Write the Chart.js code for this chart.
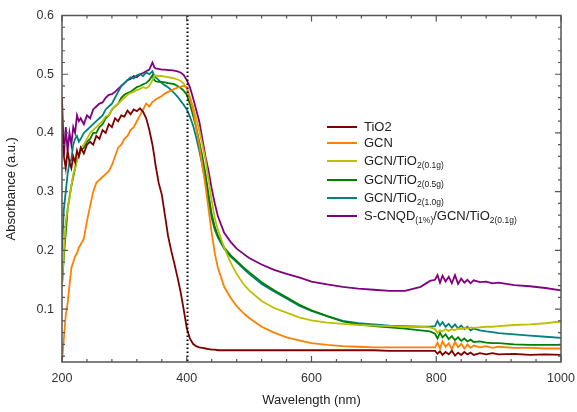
<!DOCTYPE html>
<html>
<head>
<meta charset="utf-8">
<script src="https://cdn.jsdelivr.net/npm/chart.js@4.4.1/dist/chart.umd.min.js"></script>
<style>
  html, body { margin: 0; padding: 0; background: #fff; }
  #wrap { width: 577px; height: 412px; }
</style>
</head>
<body>
<div id="wrap"><canvas id="absChart" width="577" height="412"></canvas></div>
<script>
// wavelength grid (nm) shared by all spectra
const wavelength = [200,203,206,209,212,215,218,221,224,227,230,235,240,245,250,255,260,265,270,275,280,285,290,295,300,305,310,315,320,325,330,335,340,345,348,350,355,360,365,370,375,380,385,390,395,400,405,410,415,420,425,430,435,440,445,450,460,470,480,490,500,520,540,560,580,600,625,650,675,700,725,750,775,790,798,802,806,810,815,820,825,830,835,840,845,850,855,860,870,880,890,900,925,950,975,1000];

const tio2 = [0.46,0.36,0.34,0.37,0.35,0.34,0.36,0.35,0.37,0.36,0.375,0.365,0.38,0.385,0.38,0.395,0.39,0.405,0.40,0.415,0.41,0.425,0.42,0.43,0.428,0.438,0.432,0.44,0.437,0.442,0.436,0.425,0.405,0.38,0.36,0.345,0.315,0.295,0.26,0.225,0.20,0.178,0.155,0.13,0.10,0.068,0.05,0.041,0.037,0.035,0.034,0.033,0.032,0.031,0.031,0.030,0.030,0.030,0.030,0.030,0.030,0.030,0.030,0.030,0.030,0.030,0.030,0.030,0.030,0.030,0.029,0.029,0.029,0.029,0.029,0.024,0.028,0.022,0.027,0.023,0.029,0.021,0.026,0.022,0.027,0.023,0.026,0.022,0.025,0.023,0.025,0.023,0.024,0.022,0.023,0.022];

const gcn = [0.01,0.05,0.09,0.11,0.14,0.17,0.18,0.19,0.195,0.205,0.21,0.22,0.25,0.275,0.30,0.315,0.32,0.325,0.33,0.335,0.345,0.36,0.375,0.38,0.39,0.395,0.405,0.41,0.42,0.43,0.44,0.45,0.445,0.453,0.455,0.457,0.46,0.463,0.467,0.47,0.472,0.475,0.477,0.479,0.48,0.478,0.46,0.44,0.41,0.38,0.345,0.31,0.27,0.23,0.195,0.17,0.138,0.12,0.105,0.094,0.085,0.07,0.06,0.052,0.047,0.042,0.039,0.037,0.036,0.035,0.035,0.035,0.035,0.035,0.035,0.043,0.033,0.045,0.036,0.042,0.032,0.044,0.035,0.041,0.033,0.040,0.034,0.038,0.035,0.037,0.034,0.036,0.034,0.034,0.033,0.033];

const gcnTio2_01 = [0.14,0.20,0.25,0.27,0.29,0.31,0.33,0.34,0.355,0.36,0.375,0.38,0.39,0.40,0.405,0.41,0.415,0.42,0.428,0.43,0.44,0.445,0.45,0.455,0.46,0.465,0.468,0.47,0.473,0.475,0.478,0.476,0.48,0.49,0.497,0.498,0.497,0.497,0.496,0.495,0.494,0.493,0.491,0.489,0.484,0.476,0.46,0.445,0.425,0.405,0.38,0.355,0.32,0.285,0.255,0.235,0.205,0.18,0.16,0.144,0.132,0.114,0.102,0.094,0.086,0.081,0.077,0.075,0.073,0.072,0.071,0.070,0.070,0.069,0.066,0.060,0.064,0.062,0.066,0.063,0.066,0.064,0.067,0.066,0.068,0.067,0.069,0.068,0.069,0.070,0.070,0.071,0.073,0.074,0.076,0.079];

const gcnTio2_05 = [0.14,0.19,0.23,0.27,0.29,0.31,0.325,0.34,0.355,0.36,0.37,0.375,0.385,0.39,0.40,0.40,0.41,0.415,0.425,0.43,0.44,0.445,0.45,0.46,0.465,0.468,0.47,0.474,0.478,0.48,0.483,0.485,0.49,0.498,0.49,0.488,0.487,0.487,0.486,0.485,0.484,0.483,0.48,0.477,0.472,0.465,0.45,0.43,0.41,0.385,0.36,0.33,0.295,0.262,0.24,0.225,0.205,0.192,0.182,0.172,0.163,0.146,0.132,0.12,0.108,0.098,0.088,0.079,0.074,0.071,0.069,0.067,0.064,0.062,0.058,0.050,0.060,0.052,0.057,0.049,0.054,0.047,0.052,0.046,0.050,0.045,0.048,0.044,0.045,0.043,0.042,0.042,0.040,0.039,0.039,0.039];

const gcnTio2_10 = [0.20,0.27,0.30,0.33,0.35,0.355,0.38,0.39,0.395,0.385,0.39,0.40,0.405,0.41,0.415,0.42,0.425,0.43,0.44,0.445,0.45,0.46,0.47,0.48,0.485,0.49,0.495,0.493,0.498,0.50,0.497,0.503,0.50,0.505,0.497,0.495,0.49,0.485,0.481,0.478,0.473,0.468,0.462,0.455,0.448,0.44,0.428,0.413,0.393,0.37,0.345,0.318,0.285,0.255,0.235,0.222,0.203,0.19,0.18,0.17,0.16,0.143,0.13,0.118,0.106,0.097,0.088,0.08,0.076,0.074,0.072,0.071,0.070,0.070,0.071,0.080,0.072,0.078,0.070,0.075,0.068,0.074,0.067,0.072,0.066,0.070,0.064,0.067,0.064,0.062,0.061,0.059,0.057,0.055,0.053,0.051];

const scnqd = [0.40,0.36,0.41,0.37,0.40,0.38,0.41,0.40,0.43,0.42,0.425,0.415,0.43,0.425,0.44,0.445,0.45,0.452,0.46,0.465,0.466,0.47,0.475,0.48,0.485,0.49,0.492,0.497,0.495,0.50,0.502,0.505,0.508,0.52,0.512,0.51,0.509,0.508,0.508,0.507,0.507,0.506,0.505,0.503,0.499,0.49,0.478,0.46,0.44,0.42,0.39,0.36,0.335,0.305,0.28,0.258,0.23,0.215,0.203,0.195,0.187,0.176,0.167,0.16,0.154,0.147,0.142,0.138,0.135,0.133,0.131,0.131,0.138,0.148,0.150,0.158,0.145,0.157,0.147,0.155,0.144,0.158,0.143,0.152,0.145,0.150,0.144,0.149,0.146,0.147,0.144,0.145,0.141,0.139,0.136,0.132];

const xTicks = [200, 400, 600, 800, 1000];
const yTicks = [0.1, 0.2, 0.3, 0.4, 0.5, 0.6];
const edgeLine = 400;

const FONT = '"Liberation Sans", Arial, sans-serif';

function pts(values) {
    return wavelength.map((w, i) => ({ x: w, y: values[i] }));
}

function ds(label, values, color) {
    return {
        label: label,
        data: pts(values),
        borderColor: color,
        backgroundColor: color,
        borderWidth: 1.8,
        pointRadius: 0,
        tension: 0,
        fill: false
    };
}

// legend with subscripts: [text, isSub]
const legendItems = [
    { color: '#800000', parts: [['TiO2', 0]] },
    { color: '#ff8000', parts: [['GCN', 0]] },
    { color: '#bfbf00', parts: [['GCN/TiO', 0], ['2(0.1g)', 1]] },
    { color: '#008000', parts: [['GCN/TiO', 0], ['2(0.5g)', 1]] },
    { color: '#008080', parts: [['GCN/TiO', 0], ['2(1.0g)', 1]] },
    { color: '#800080', parts: [['S-CNQD', 0], ['(1%)', 1], ['/GCN/TiO', 0], ['2(0.1g)', 1]] }
];

const framePlugin = {
    id: 'frame',
    afterDatasetsDraw(chart) {
        const { ctx, chartArea: a, scales: { x, y } } = chart;
        ctx.save();

        // dotted line at 400 nm
        const xd = Math.round(x.getPixelForValue(edgeLine)) + 0.5;
        ctx.strokeStyle = '#000';
        ctx.lineWidth = 2;
        ctx.setLineDash([1.5, 2.5]);
        ctx.beginPath();
        ctx.moveTo(xd, a.top);
        ctx.lineTo(xd, a.bottom);
        ctx.stroke();
        ctx.setLineDash([]);

        // box
        ctx.strokeStyle = '#555';
        ctx.lineWidth = 1.5;
        ctx.strokeRect(a.left, a.top, a.right - a.left, a.bottom - a.top);

        // inward ticks, all four sides
        ctx.lineWidth = 1.2;
        ctx.beginPath();
        for (let v = 200; v <= 1000; v += 40) {
            const px = x.getPixelForValue(v);
            const len = (v % 200 === 0) ? 6 : 3;
            ctx.moveTo(px, a.bottom); ctx.lineTo(px, a.bottom - len);
            ctx.moveTo(px, a.top); ctx.lineTo(px, a.top + len);
        }
        for (let k = 1; k <= 30; k++) {
            const v = k * 0.02;
            const py = y.getPixelForValue(v);
            const len = (k % 5 === 0) ? 6 : 3;
            ctx.moveTo(a.left, py); ctx.lineTo(a.left + len, py);
            ctx.moveTo(a.right, py); ctx.lineTo(a.right - len, py);
        }
        ctx.stroke();

        // legend
        const rows = [127, 143, 161, 180, 198, 216];
        legendItems.forEach((item, i) => {
            const yy = rows[i];
            ctx.strokeStyle = item.color;
            ctx.lineWidth = 2;
            ctx.beginPath();
            ctx.moveTo(327, yy);
            ctx.lineTo(357, yy);
            ctx.stroke();
            let tx = 364;
            ctx.fillStyle = '#222';
            ctx.textBaseline = 'middle';
            ctx.textAlign = 'left';
            item.parts.forEach(([txt, sub]) => {
                ctx.font = sub ? '8.5px ' + FONT : '13px ' + FONT;
                ctx.fillText(txt, tx, sub ? yy + 5 : yy);
                tx += ctx.measureText(txt).width;
            });
        });

        ctx.restore();
    }
};

new Chart(document.getElementById('absChart'), {
    type: 'line',
    data: {
        datasets: [
            ds('TiO2', tio2, '#800000'),
            ds('GCN', gcn, '#ff8000'),
            ds('GCN/TiO2(0.1g)', gcnTio2_01, '#bfbf00'),
            ds('GCN/TiO2(0.5g)', gcnTio2_05, '#008000'),
            ds('GCN/TiO2(1.0g)', gcnTio2_10, '#008080'),
            ds('S-CNQD(1%)/GCN/TiO2(0.1g)', scnqd, '#800080')
        ]
    },
    options: {
        responsive: false,
        animation: false,
        layout: { padding: { left: 0, right: 16, top: 15, bottom: 0 } },
        plugins: {
            legend: { display: false },
            tooltip: { enabled: false }
        },
        scales: {
            x: {
                type: 'linear',
                min: 200,
                max: 1000,
                afterBuildTicks: s => { s.ticks = xTicks.map(v => ({ value: v })); },
                afterFit: s => { s.height = 50; s.paddingRight = 0; s.paddingLeft = 0; },
                grid: { display: false, drawTicks: false },
                border: { display: false },
                ticks: { padding: 9, color: '#333', font: { family: FONT, size: 12.5 }, maxRotation: 0, callback: v => String(v) },
                title: { display: true, text: 'Wavelength (nm)', color: '#222', font: { family: FONT, size: 13 }, padding: { top: 8 } }
            },
            y: {
                min: 0.01,
                max: 0.6,
                afterBuildTicks: s => { s.ticks = yTicks.map(v => ({ value: v })); },
                afterFit: s => { s.width = 62; },
                grid: { display: false, drawTicks: false },
                border: { display: false },
                ticks: { padding: 8, color: '#333', font: { family: FONT, size: 12.5 }, callback: v => v.toFixed(1) },
                title: { display: true, text: 'Absorbance (a.u.)', color: '#222', font: { family: FONT, size: 13 }, padding: { bottom: 4 } }
            }
        }
    },
    plugins: [framePlugin]
});
</script>
</body>
</html>
